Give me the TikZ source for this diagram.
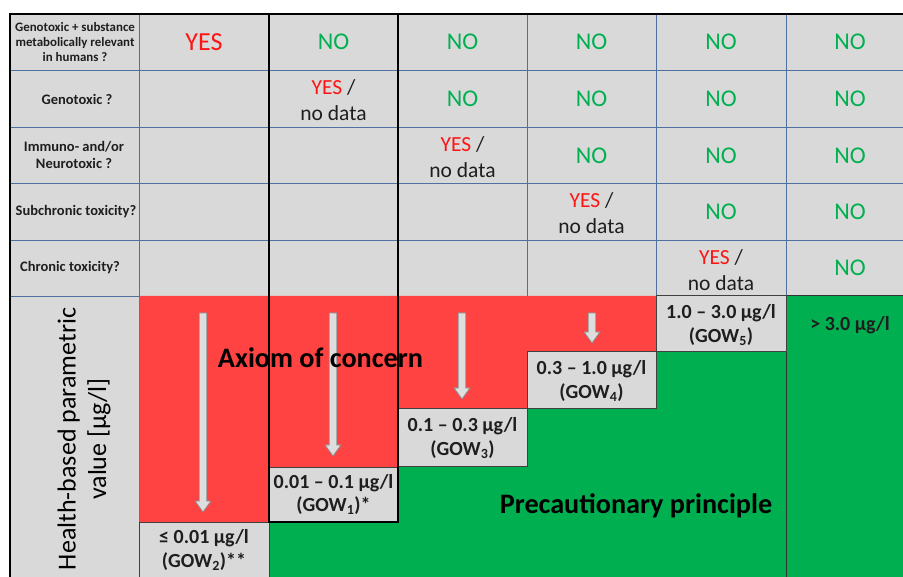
\documentclass[tikz,border=0pt]{standalone}
\usepackage{fontspec}
\setmainfont{Carlito}
\definecolor{cellgray}{RGB}{217,217,217}
\definecolor{redfill}{RGB}{255,66,66}
\definecolor{greenfill}{RGB}{0,176,80}
\definecolor{gridblue}{RGB}{79,112,160}
\definecolor{yesred}{RGB}{255,20,20}
\definecolor{nogreen}{RGB}{0,176,80}
\definecolor{arrowfill}{RGB}{222,222,222}
\definecolor{arrowline}{RGB}{140,140,140}
\definecolor{textdark}{RGB}{30,30,30}
\newcommand{\dnarrow}[3]{%
  \filldraw[arrowsty] (#1-3.8,#2) -- (#1+3.8,#2) -- (#1+3.8,#3-11) -- (#1+8,#3-11) -- (#1,#3) -- (#1-8,#3-11) -- (#1-3.8,#3-11) -- cycle;}
\begin{document}
\begin{tikzpicture}[x=1pt,y=-1pt,
  gridline/.style={draw=gridblue,line width=0.9pt},
  thickline/.style={draw=black,line width=2.6pt},
  boxsty/.style={fill=cellgray,draw=black!75,line width=1pt},
  arrowsty/.style={fill=arrowfill,draw=arrowline,line width=0.8pt},
  nocell/.style={font=\fontsize{24}{24}\selectfont,text=nogreen},
  yescell/.style={font=\fontsize{21.5}{26}\selectfont,align=center,text=textdark},
  rowlab/.style={font=\bfseries\fontsize{14.5}{17}\selectfont,align=center,text=textdark},
  toplab/.style={font=\bfseries\fontsize{12.9}{15}\selectfont,align=center,text=textdark},
  gowlab/.style={font=\bfseries\fontsize{20}{23.5}\selectfont,align=center,text=textdark},
  bigtext/.style={font=\bfseries\fontsize{28.2}{30}\selectfont,text=black},
  sidelab/.style={font=\fontsize{26}{30.5}\selectfont,align=center,text=black,rotate=90}]
\useasboundingbox (0,0) rectangle (903,577);
\fill[white] (0,0) rectangle (903,577);
\clip (0,0) rectangle (903,577);
% gray background
\fill[cellgray] (10,14) rectangle (915,296);
\fill[cellgray] (10,296) rectangle (139,590);
% grid lines
\foreach \yy in {70,127,183,240,296} \draw[gridline] (10,\yy) -- (915,\yy);
\foreach \xx in {139,527,656,786} \draw[gridline] (\xx,14) -- (\xx,296);
% red region
\fill[redfill] (139,296) -- (656,296) -- (656,352) -- (527,352) -- (527,409) -- (398,409) -- (398,467) -- (269,467) -- (269,522) -- (139,522) -- cycle;
% green region
\fill[greenfill] (269,522) -- (398,522) -- (398,466) -- (527,466) -- (527,409) -- (656,409) -- (656,352) -- (786,352) -- (786,296) -- (915,296) -- (915,590) -- (269,590) -- cycle;
\draw[black!80,line width=1pt] (786,296) -- (786,590);
\draw[black!80,line width=1pt] (786,296) -- (915,296);
\draw[black!55,line width=1pt] (139,296) -- (139,590);
% gray value boxes
\draw[boxsty] (139,522) rectangle (269,595);
\draw[boxsty] (269,467) rectangle (398,522);
\draw[boxsty] (398,409) rectangle (527,466);
\draw[boxsty] (527,352) rectangle (656,409);
\draw[boxsty] (656,296) rectangle (786,352);
% arrows
\dnarrow{203}{313}{512}
\dnarrow{333}{313}{456}
\dnarrow{462}{313}{399}
\dnarrow{592}{313}{343}
% thick lines
\draw[thickline] (920,14) -- (10,14) -- (10,590);
\draw[thickline] (269,14) -- (269,522) -- (398,522) -- (398,14);
% row labels
\node[toplab] (q1) at (75,42) {Genotoxic + substance\\metabolically relevant\\in humans ?};
\node[rowlab] (q2) at (77,99) {Genotoxic ?};
\node[rowlab] (q3) at (74,155) {Immuno- and/or\\Neurotoxic ?};
\node[rowlab] (q4) at (76,212) {Subchronic toxicity?};
\node[rowlab] (q5) at (70,268) {Chronic toxicity?};
% row 1
\node[font=\fontsize{26}{26}\selectfont,text=yesred] (a11) at (204,42) {YES};
\node[nocell] (a12) at (333.5,42) {NO};
\node[nocell] (a13) at (462.5,42) {NO};
\node[nocell] (a14) at (591.5,42) {NO};
\node[nocell] (a15) at (721,42) {NO};
\node[nocell] (a16) at (850,42) {NO};
% row 2
\node[yescell] (a22) at (333.5,100) {\textcolor{yesred}{YES} /\\no data};
\node[nocell] (a23) at (462.5,99) {NO};
\node[nocell] (a24) at (591.5,99) {NO};
\node[nocell] (a25) at (721,99) {NO};
\node[nocell] (a26) at (850,99) {NO};
% row 3
\node[yescell] (a33) at (462.5,157) {\textcolor{yesred}{YES} /\\no data};
\node[nocell] (a34) at (591.5,156) {NO};
\node[nocell] (a35) at (721,156) {NO};
\node[nocell] (a36) at (850,156) {NO};
% row 4
\node[yescell] (a44) at (591.5,213) {\textcolor{yesred}{YES} /\\no data};
\node[nocell] (a45) at (721,212) {NO};
\node[nocell] (a46) at (850,212) {NO};
% row 5
\node[yescell] (a55) at (721,270) {\textcolor{yesred}{YES} /\\no data};
\node[nocell] (a56) at (850,268) {NO};
% value labels
\node[gowlab] (g2) at (204,550) {≤ 0.01 µg/l\\(GOW\textsubscript{2})**};
\node[gowlab] (g1) at (333.5,494.5) {0.01 – 0.1 µg/l\\(GOW\textsubscript{1})*};
\node[gowlab] (g3) at (462.5,438) {0.1 – 0.3 µg/l\\(GOW\textsubscript{3})};
\node[gowlab] (g4) at (591.5,381) {0.3 – 1.0 µg/l\\(GOW\textsubscript{4})};
\node[gowlab] (g5) at (721,325) {1.0 – 3.0 µg/l\\(GOW\textsubscript{5})};
\node[gowlab] (g6) at (850,325) {> 3.0 µg/l};
% big texts
\node[bigtext,anchor=base] (axiom) at (320.5,367.5) {Axiom of concern};
\node[bigtext,anchor=base] (prec) at (636,513) {Precautionary principle};
\node[sidelab] (side) at (84,439) {Health-based parametric\\value [µg/l]};
\end{tikzpicture}
\end{document}
